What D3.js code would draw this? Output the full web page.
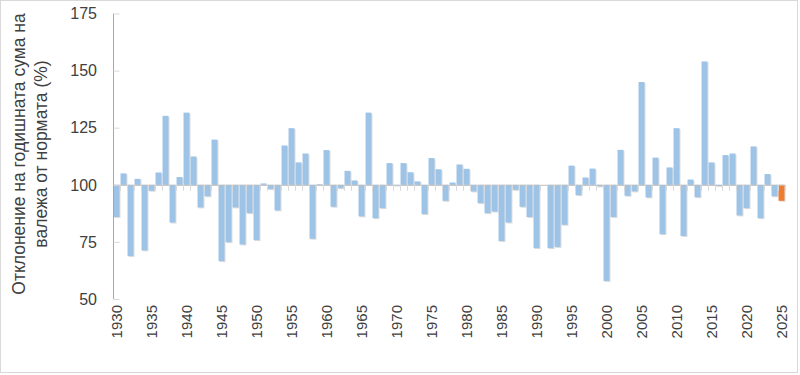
<!DOCTYPE html>
<html>
<head>
<meta charset="utf-8">
<script src="https://cdn.jsdelivr.net/npm/d3@7"></script>
<style>
  body { margin: 0; background: #fff; }
  svg text { font-family: "Liberation Sans", Arial, sans-serif; fill: #404040; }
</style>
</head>
<body>
<div id="chart"></div>
<script>
// annual precipitation as % of the norm, 1930..2025 (last year highlighted)
var firstYear = 1930;
var values = [
  85.9, 105.0, 68.8, 102.6, 71.3, 97.4, 105.4, 130.2, 83.5, 103.4,
  131.6, 112.4, 90.1, 95.0, 119.8, 66.6, 74.9, 90.1, 73.9, 87.6,
  75.8, 100.6, 98.1, 88.8, 117.2, 124.8, 109.8, 113.7, 76.4, 100.3,
  115.2, 90.4, 98.5, 106.1, 101.9, 86.2, 131.6, 85.4, 89.8, 109.5,
  99.7, 109.5, 105.5, 101.5, 87.2, 111.7, 106.8, 93.0, 101.0, 108.9,
  107.0, 97.1, 92.0, 87.6, 88.3, 75.4, 83.5, 97.8, 90.4, 85.9,
  72.3, 100.0, 72.3, 72.8, 82.5, 108.4, 95.5, 103.2, 107.1, 99.3,
  57.9, 85.9, 115.3, 95.2, 97.1, 145.0, 94.5, 111.9, 78.4, 107.6,
  124.8, 77.6, 102.3, 94.6, 154.0, 109.8, 99.5, 113.0, 113.7, 86.6,
  89.8, 116.8, 85.4, 104.7, 95.0, 93.0
];
var highlightYear = 2025;
var xTickLabels = ["1930", "1935", "1940", "1945", "1950", "1955", "1960", "1965", "1970", "1975",
  "1980", "1985", "1990", "1995", "2000", "2005", "2010", "2015", "2020", "2025"];
var yTicks = [50, 75, 100, 125, 150, 175];
var titleLines = ["Отклонение на годишната сума на", "валежа от нормата (%)"];

var years = values.map(function(d, i) { return String(firstYear + i); });
var data = values.map(function(v, i) { return { year: years[i], value: v }; });

var width = 800, height = 375;
var plot = { left: 113, right: 785, top: 13.5, bottom: 299 };

var svg = d3.select("#chart").append("svg")
    .attr("width", width)
    .attr("height", height);

// chart border
svg.append("rect")
    .attr("x", 0.5).attr("y", 0.5)
    .attr("width", 797).attr("height", 372)
    .attr("fill", "none")
    .attr("stroke", "#d9d9d9");

var x = d3.scaleBand()
    .domain(years)
    .range([plot.left, plot.right])
    .paddingInner(0.15)
    .paddingOuter(0.075);

var y = d3.scaleLinear()
    .domain([50, 175])
    .range([plot.bottom, plot.top]);

// bar shadows
svg.append("g").selectAll("rect")
  .data(data)
  .enter().append("rect")
    .attr("x", function(d) { return x(d.year) + 1; })
    .attr("y", function(d) { return Math.min(y(d.value), y(100)) + 1; })
    .attr("width", x.bandwidth())
    .attr("height", function(d) { return Math.abs(y(d.value) - y(100)); })
    .attr("fill", "#dcdcdc");

// bars from the 100% line
svg.append("g").selectAll("rect")
  .data(data)
  .enter().append("rect")
    .attr("x", function(d) { return x(d.year); })
    .attr("y", function(d) { return Math.min(y(d.value), y(100)); })
    .attr("width", x.bandwidth())
    .attr("height", function(d) { return Math.abs(y(d.value) - y(100)); })
    .attr("fill", function(d) { return +d.year === highlightYear ? "#ed7d31" : "#9dc3e6"; });

// category axis crossing at 100
var baseline = svg.append("g");
baseline.append("line")
    .attr("x1", plot.left).attr("x2", plot.right)
    .attr("y1", y(100) + 0.5).attr("y2", y(100) + 0.5)
    .attr("stroke", "#bfbfbf");
baseline.selectAll("line.tick")
  .data(years.concat(["end"]))
  .enter().append("line")
    .attr("class", "tick")
    .attr("x1", function(d, i) { return Math.round(plot.left + i * x.step()) + 0.5; })
    .attr("x2", function(d, i) { return Math.round(plot.left + i * x.step()) + 0.5; })
    .attr("y1", y(100)).attr("y2", y(100) + 6)
    .attr("stroke", "#d9d9d9");

// category labels at the bottom
svg.append("g").selectAll("text")
  .data(xTickLabels)
  .enter().append("text")
    .attr("transform", function(d) {
      return "translate(" + (x(d) + x.bandwidth() / 2 + 5.5) + "," + (plot.bottom + 6) + ")rotate(-90)";
    })
    .attr("text-anchor", "end")
    .style("font-size", "15px")
    .text(function(d) { return d; });

// value axis
var yAxis = svg.append("g")
    .attr("transform", "translate(" + (plot.left + 0.5) + ",0)")
    .call(d3.axisRight(y).tickValues(yTicks).tickSize(6).tickFormat(""));
yAxis.select(".domain").attr("stroke", "#a6a6a6").attr("d", "M0," + plot.top + "V" + plot.bottom);
yAxis.selectAll(".tick line").attr("stroke", "#d9d9d9");

svg.append("g").selectAll("text")
  .data(yTicks)
  .enter().append("text")
    .attr("x", 97)
    .attr("y", function(d) { return y(d); })
    .attr("dy", "0.36em")
    .attr("text-anchor", "end")
    .style("font-size", "16px")
    .text(function(d) { return d; });

// axis title
svg.append("text")
    .attr("transform", "translate(25,154)rotate(-90)")
    .attr("text-anchor", "middle")
    .style("font-size", "17.5px")
    .selectAll("tspan")
  .data(titleLines)
  .enter().append("tspan")
    .attr("x", 0)
    .attr("dy", function(d, i) { return i === 0 ? 0 : "1.25em"; })
    .text(function(d) { return d; });
</script>
</body>
</html>
